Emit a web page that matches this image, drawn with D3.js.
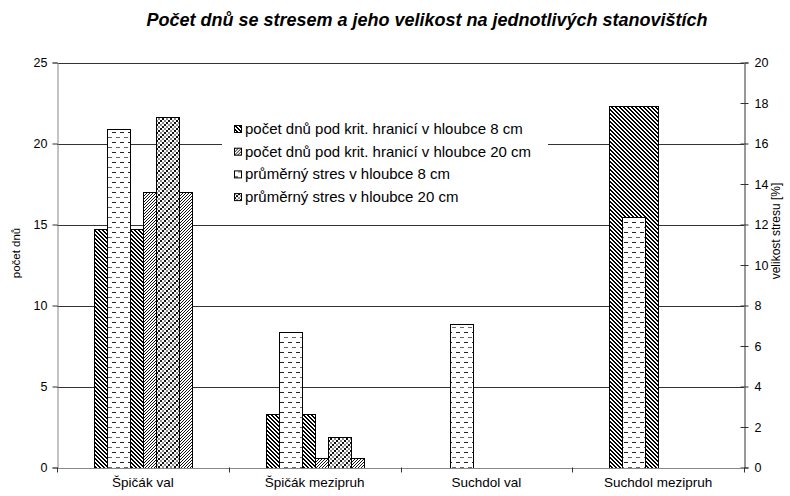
<!DOCTYPE html>
<html>
<head>
<meta charset="utf-8">
<script src="https://cdn.jsdelivr.net/npm/d3@7"></script>
<style>
  body { margin: 0; background: #fff; }
  svg { display: block; font-family: "Liberation Sans", Arial, sans-serif; }
</style>
</head>
<body>
<div id="chart"></div>
<script>
const categories = ["Špičák val", "Špičák mezipruh", "Suchdol val", "Suchdol mezipruh"];
// left axis: počet dnů
const days8 = [14.7, 3.3, 0, 22.3];
const days20 = [17.0, 0.6, 0, 0];
// right axis: velikost stresu [%]
const stress8 = [16.7, 6.7, 7.1, 12.35];
const stress20 = [17.3, 1.5, 0, 0];
const leftTicks = [0, 5, 10, 15, 20, 25];
const rightTicks = [0, 2, 4, 6, 8, 10, 12, 14, 16, 18, 20];
const legendLabels = [
  "počet dnů pod krit. hranicí v hloubce 8 cm",
  "počet dnů pod krit. hranicí v hloubce 20 cm",
  "průměrný stres v hloubce 8 cm",
  "průměrný stres v hloubce 20 cm"
];

var width = 790, height = 496;
var plot = {left: 57, right: 744, top: 62.5, bottom: 467.5};

var svg = d3.select("#chart").append("svg")
    .attr("width", width)
    .attr("height", height);

// pixel patterns like the old Excel fills
var defs = svg.append("defs");
function pixelPattern(id, w, h, fn) {
  var p = defs.append("pattern")
      .attr("id", id)
      .attr("patternUnits", "userSpaceOnUse")
      .attr("width", w).attr("height", h);
  p.append("rect").attr("width", w).attr("height", h).attr("fill", "#fff");
  for (var y = 0; y < h; y++) {
    for (var x = 0; x < w; x++) {
      var c = fn(x, y);
      if (c) p.append("rect").attr("x", x).attr("y", y).attr("width", 1).attr("height", 1).attr("fill", c);
    }
  }
}
pixelPattern("p-d8", 4, 4, (x, y) => ((x - y + 8) % 4 < 2) ? "#000" : null);
pixelPattern("p-d20", 3, 3, (x, y) => ((x + y) % 3 == 0) ? "#111" : null);
pixelPattern("p-s8", 8, 10, (x, y) => {
  if (y == 2 && x < 4) return "#222";
  if (y == 7 && x >= 4) return "#666";
  return null;
});
var conf = [
  "BBWWGGWW",
  "BBWWGGWW",
  "WWGGWWBB",
  "WWGGWWBB",
  "GGWWBBWW",
  "GGWWBBWW",
  "WWBBWWGG",
  "WWBBWWGG"
];
pixelPattern("p-s20", 8, 8, (x, y) => {
  var ch = conf[y][x];
  return ch == "B" ? "#111" : ch == "G" ? "#888" : null;
});
const fills = ["url(#p-d8)", "url(#p-d20)", "url(#p-s8)", "url(#p-s20)"];

var yL = d3.scaleLinear().domain([0, 25]).range([plot.bottom, plot.top]);
var yR = d3.scaleLinear().domain([0, 20]).range([plot.bottom, plot.top]);

var x = d3.scaleBand().domain(categories).range([plot.left, plot.right])
    .paddingInner(0.43).paddingOuter(0.215);
// primary bars fill the two halves of the group
var sub = d3.scaleBand().domain([0, 1]).range([0, x.bandwidth()]);
// secondary bars are narrower, centred on each half
var sub2 = d3.scaleBand().domain([0, 1]).range([0, x.bandwidth()])
    .paddingInner(0.53).paddingOuter(0.265);

// gridlines
svg.append("g").selectAll("line")
  .data(leftTicks.filter(d => d > 0))
  .join("line")
    .attr("x1", plot.left).attr("x2", plot.right)
    .attr("y1", d => Math.round(yL(d)) + 0.5).attr("y2", d => Math.round(yL(d)) + 0.5)
    .attr("stroke", "#333").attr("stroke-width", 1);

// primary bars (days)
[days8, days20].forEach((vals, si) => {
  svg.append("g").selectAll("rect")
    .data(vals.map((v, i) => ({cat: categories[i], v: v})).filter(d => d.v > 0))
    .join("rect")
      .attr("x", d => Math.round(x(d.cat) + sub(si)) + 0.5)
      .attr("y", d => Math.round(yL(d.v)) + 0.5)
      .attr("width", Math.round(sub.bandwidth()))
      .attr("height", d => Math.round(yL(0)) - Math.round(yL(d.v)))
      .attr("fill", fills[si])
      .attr("stroke", "#000").attr("stroke-width", 1);
});

// secondary bars (stress)
[stress8, stress20].forEach((vals, si) => {
  svg.append("g").selectAll("rect")
    .data(vals.map((v, i) => ({cat: categories[i], v: v})).filter(d => d.v > 0))
    .join("rect")
      .attr("x", d => Math.round(x(d.cat) + sub2(si)) + 0.5)
      .attr("y", d => Math.round(yR(d.v)) + 0.5)
      .attr("width", Math.round(sub2.bandwidth()))
      .attr("height", d => Math.round(yR(0)) - Math.round(yR(d.v)))
      .attr("fill", fills[si + 2])
      .attr("stroke", "#000").attr("stroke-width", 1);
});

// left axis
var axL = svg.append("g")
    .attr("transform", `translate(${plot.left + 0.5},0)`)
    .call(d3.axisLeft(yL).tickValues(leftTicks).tickSize(5).tickPadding(5));
axL.select(".domain").attr("stroke", "#888");
axL.selectAll(".tick line").attr("stroke", "#333");
axL.selectAll("text").attr("font-size", 12.5).attr("fill", "#000");

// right axis, ticks crossing
var axR = svg.append("g")
    .attr("transform", `translate(${plot.right + 0.5},0)`)
    .call(d3.axisRight(yR).tickValues(rightTicks).tickSize(4).tickPadding(6));
axR.select(".domain").attr("stroke", "#333");
axR.selectAll(".tick line").attr("x1", -4).attr("stroke", "#333");
axR.selectAll("text").attr("font-size", 12.5).attr("fill", "#000");

// bottom axis
var bottom = svg.append("g");
bottom.append("line")
    .attr("x1", plot.left).attr("x2", plot.right)
    .attr("y1", Math.round(plot.bottom) + 0.5).attr("y2", Math.round(plot.bottom) + 0.5)
    .attr("stroke", "#888");
bottom.selectAll(".sep")
  .data(d3.range(categories.length + 1))
  .join("line")
    .attr("x1", i => Math.round(plot.left + x.step() * i) + 0.5)
    .attr("x2", i => Math.round(plot.left + x.step() * i) + 0.5)
    .attr("y1", plot.bottom).attr("y2", plot.bottom + 5)
    .attr("stroke", "#333");
bottom.selectAll("text")
  .data(categories)
  .join("text")
    .attr("x", d => x(d) + x.bandwidth() / 2)
    .attr("y", 487)
    .attr("text-anchor", "middle")
    .attr("font-size", 13.5)
    .text(d => d);

// axis titles
svg.append("text")
    .attr("transform", "translate(20,253) rotate(-90)")
    .attr("text-anchor", "middle")
    .attr("font-size", 11.5)
    .text("počet dnů");
svg.append("text")
    .attr("transform", "translate(780,231) rotate(-90)")
    .attr("text-anchor", "middle")
    .attr("font-size", 12)
    .text("velikost stresu [%]");

// title
svg.append("text")
    .attr("x", 427).attr("y", 26)
    .attr("text-anchor", "middle")
    .attr("font-size", 18)
    .attr("font-weight", "bold")
    .attr("font-style", "italic")
    .text("Počet dnů se stresem a jeho velikost na jednotlivých stanovištích");

// legend
var leg = svg.append("g");
leg.append("rect")
    .attr("x", 222).attr("y", 114).attr("width", 326).attr("height", 96)
    .attr("fill", "#fff");
var rows = leg.selectAll(".row")
  .data(legendLabels)
  .join("g")
    .attr("transform", (d, i) => `translate(234,${129 + i * 22.7})`);
rows.append("rect")
    .attr("x", 0.5).attr("y", -3.5).attr("width", 7).attr("height", 7)
    .attr("fill", (d, i) => fills[i])
    .attr("stroke", "#000");
rows.append("text")
    .attr("x", 11).attr("y", 5)
    .attr("font-size", 15)
    .text(d => d);
</script>
</body>
</html>
